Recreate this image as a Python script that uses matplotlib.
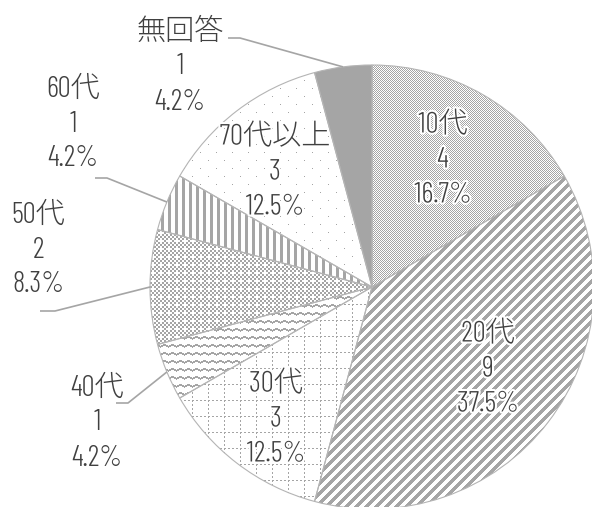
import numpy as np
import matplotlib
matplotlib.use('Agg')
import matplotlib.pyplot as plt
import matplotlib.patheffects as pe

# data
labels = ['10代', '20代', '30代', '40代', '50代', '60代', '70代以上', '無回答']
counts = [4, 9, 3, 1, 2, 1, 3, 1]

W, H = 592, 507
gray = '#a5a5a5'
txt = '#404040'
fam = ['Barlow Condensed', 'Noto Sans CJK JP']

fig = plt.figure(figsize=(W / 100, H / 100), dpi=100)
ax = fig.add_axes([0, 0, 1, 1])

cx, cy, R = 372, H - 287, 222

# pixel fill patterns (y counted downward like the screen)
X, Y = np.meshgrid(np.arange(W), np.arange(H))
zz = np.abs((X % 8) - 4) // 2
patterns = [
    (X + Y) % 2 == 0,                                                  # fine checker
    (X + Y) % 10 < 5,                                                  # diagonal
    ((X % 16 == 0) & (Y % 4 < 2)) | ((Y % 16 == 0) & (X % 4 < 2)),     # dotted grid
    (Y - zz) % 8 < 2,                                                  # zigzag
    (((X // 2) + (Y // 2)) % 2 == 0) & ~(((X // 2) % 4 == 0) & ((Y // 2) % 4 == 0)),
    X % 7 < 3,                                                         # vertical
    (Y % 8 == 0) & (X % 16 == (Y // 8 % 2) * 8),                       # sparse dots
    np.ones_like(X, dtype=bool),                                       # solid
]

wedges, _ = ax.pie(counts, center=(cx, cy), radius=R, startangle=90,
                   counterclock=False, colors=['white'] * len(counts),
                   wedgeprops=dict(edgecolor='none'))
g = np.array(matplotlib.colors.to_rgb(gray))
for w, p in zip(wedges, patterns):
    img = np.ones((H, W, 3))
    img[p] = g
    im = ax.imshow(img, extent=(0, W, 0, H), origin='upper',
                   interpolation='nearest', resample=False, zorder=2)
    im.set_clip_path(w)
ax.pie(counts, center=(cx, cy), radius=R, startangle=90, counterclock=False,
       colors=['none'] * len(counts),
       wedgeprops=dict(edgecolor='#b4b4b4', linewidth=0.8, zorder=3))

ax.set_xlim(0, W)
ax.set_ylim(0, H)
ax.set_aspect('equal')
ax.axis('off')

total = sum(counts)
pcts = [c / total * 100 for c in counts]

# label centres (first line) in pixels, and leader elbow for outside ones
inside = {0: (443, 125), 1: (488, 334), 2: (276, 384), 6: (275, 137)}
outside = {7: ((180, 32), (228, 240, 38)),
           5: ((73, 89), (95, 107, 178)),
           4: ((38, 215), (40, 55, 311)),
           3: ((97, 388), (116, 128, 403))}
step = 35

def put(i, x, y, halo):
    lines = [labels[i], str(counts[i]), f'{pcts[i]:.1f}%']
    for k, s in enumerate(lines):
        t = ax.text(x, H - (y + k * step), s, ha='center', va='center',
                    fontsize=21, color=txt, family=fam, weight=300, zorder=5)
        if halo:
            t.set_path_effects([pe.withStroke(linewidth=3, foreground='white')])

for i, (x, y) in inside.items():
    put(i, x, y, True)

for i, ((x, y), (x0, x1, ly)) in outside.items():
    put(i, x, y, False)
    w = wedges[i]
    a = np.deg2rad((w.theta1 + w.theta2) / 2)
    ex, ey = cx + R * np.cos(a), cy + R * np.sin(a)
    ax.plot([x0, x1, ex], [H - ly, H - ly, ey], color=gray, lw=1.2, zorder=4,
            solid_capstyle='butt')

fig.savefig('out.png', dpi=100)
